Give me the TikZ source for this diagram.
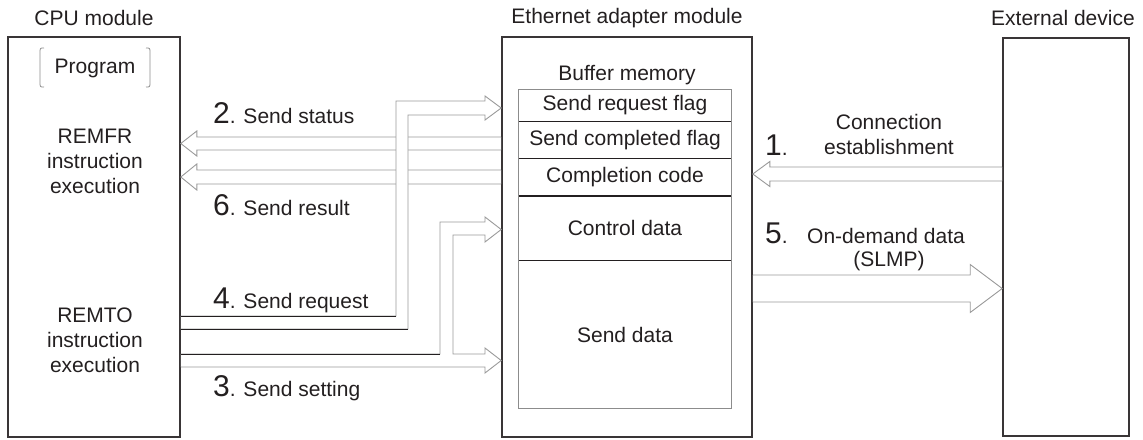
\documentclass[tikz,border=0pt]{standalone}
\usepackage{fontspec}
\setmainfont{Liberation Sans}
\usetikzlibrary{calc,positioning}

\definecolor{ink}{HTML}{231F20}
\definecolor{shaft}{HTML}{9A9A9A}
\definecolor{frame}{HTML}{8C8C8C}

\newcommand{\bignum}[1]{{\fontsize{30}{30}\selectfont #1}}
% hollow block arrow: tail, tip, half shaft, half head, head length
\newcommand{\hollowarrow}[5]{%
  \path[hollow] let \p1=(#1), \p2=(#2), \n1={sign(\x2-\x1)} in
    ({\x1},{\y2+#3}) -- ({\x2-(\n1)*(#5)},{\y2+#3}) -- ({\x2-(\n1)*(#5)},{\y2+#4})
    -- (\x2,\y2) -- ({\x2-(\n1)*(#5)},{\y2-#4}) -- ({\x2-(\n1)*(#5)},{\y2-#3})
    -- ({\x1},{\y2-#3});}

\begin{document}
\begin{tikzpicture}[
  x=1pt, y=-1pt,
  every node/.style={font=\fontsize{21}{25}\selectfont, text=ink, inner sep=0pt},
  module/.style={draw=ink!90, line width=1.6pt, minimum height=400pt},
  cell/.style={minimum width=212pt},
  hollow/.style={draw=shaft, line width=0.9pt, fill=white},
  wire/.style={draw=ink, line width=1pt},
  divider/.style={draw=ink, line width=1.1pt},
  bracket/.style={draw=frame, line width=0.8pt}
]
\useasboundingbox (0,0) rectangle (1143,439);

% modules
\node[module, minimum width=172pt] (cpu) at (94,237) {};
\node[module, minimum width=250pt] (eth) at (627,237) {};
\node[module, minimum width=126pt, minimum height=398pt] (ext) at (1066,237) {};
\node (cputitle) at (94,18) {CPU module};
\node (ethtitle) at (627,18) {Ethernet adapter module};
\node (exttitle) at (1063,18) {External device};

% cpu side
\node (prog) at (95,68) {Program};
\draw[bracket] (44,48) .. controls (40,48) .. (40,53) -- (40,82) .. controls (40,87) .. (44,87);
\draw[bracket] (146,48) .. controls (150,48) .. (150,53) -- (150,82) .. controls (150,87) .. (146,87);
\node[align=center] (remfr) at (95,161) {REMFR\\instruction\\execution};
\node[align=center] (remto) at (95,340) {REMTO\\instruction\\execution};

% buffer memory
\node (bufname) at (627,75) {Buffer memory};
\node[cell, minimum height=31pt] (reqflag) at (625,105.5) {Send request flag};
\node[cell, minimum height=37pt, below=0pt of reqflag] (doneflag) {Send completed flag};
\node[cell, minimum height=37pt, below=0pt of doneflag] (compcode) {Completion code};
\node[cell, minimum height=64pt, below=0pt of compcode] (ctrldata) {Control data};
\node[cell, minimum height=148pt, below=0pt of ctrldata] (senddata) {Send data};
\draw[draw=frame, line width=1pt] (reqflag.north west) rectangle (senddata.south east);
\foreach \r in {reqflag,doneflag,compcode,ctrldata}
  \draw[divider] (\r.south west) -- (\r.south east);

% straight arrows
\hollowarrow{eth.west |- 0,143.5}{cpu.east |- 0,143.5}{6.5pt}{12.5pt}{16pt}
\hollowarrow{eth.west |- 0,177}{cpu.east |- 0,177}{7pt}{13pt}{16pt}
\hollowarrow{ext.west |- 0,174}{eth.east |- 0,174}{7pt}{12.5pt}{17pt}
\hollowarrow{eth.east |- 0,288.5}{ext.west |- 0,288.5}{13.5pt}{24pt}{32pt}

% send request
\path[hollow] (cpu.east |- 0,316) -- (396,316) -- (396,101) -- (485,101) -- (485,96)
  -- (eth.west |- 0,108) -- (485,120) -- (485,115) -- (408,115) -- (408,329)
  -- (cpu.east |- 0,329);
% send setting
\path[hollow] (cpu.east |- 0,354) -- (440,354) -- (440,222) -- (485,222) -- (485,217)
  -- (eth.west |- 0,229.5) -- (485,242) -- (485,235) -- (453,235) -- (453,354)
  -- (485,354) -- (485,348) -- (eth.west |- 0,360.5) -- (485,373) -- (485,367)
  -- (cpu.east |- 0,367);
\draw[wire] (cpu.east |- 0,316) -- (396,316);
\draw[wire] (cpu.east |- 0,329) -- (408,329);
\draw[wire] (cpu.east |- 0,354) -- (440,354);

% labels
\node[anchor=base west] (lstatus) at (213,123) {\bignum{2}. Send status};
\node[anchor=base west] (lresult) at (213,215) {\bignum{6}. Send result};
\node[anchor=base west] (lrequest) at (213,308) {\bignum{4}. Send request};
\node[anchor=base west] (lsetting) at (213,396) {\bignum{3}. Send setting};
\node[anchor=base west] (lone) at (765,155) {\bignum{1}.};
\node[anchor=base] (lconn) at (889,129) {Connection};
\node[anchor=base] (lestab) at (889,154) {establishment};
\node[anchor=base west] (lfive) at (765,243) {\bignum{5}.};
\node[anchor=base] (ldemand) at (886,243) {On-demand data};
\node[anchor=base] (lslmp) at (889,266) {(SLMP)};
\end{tikzpicture}
\end{document}
